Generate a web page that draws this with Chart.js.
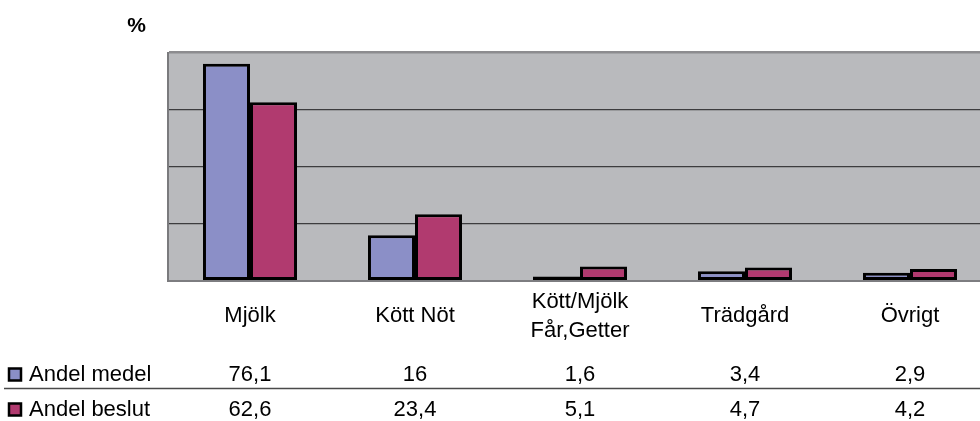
<!DOCTYPE html>
<html>
<head>
<meta charset="utf-8">
<script src="https://cdn.jsdelivr.net/npm/chart.js@4.4.1/dist/chart.umd.min.js"></script>
<style>
html, body { margin: 0; padding: 0; background: #ffffff; overflow: hidden; width: 980px; height: 421px; }
#wrap { position: absolute; left: 0; top: 0; width: 1000px; height: 421px; }
canvas { display: block; }
</style>
</head>
<body>
<div id="wrap"><canvas id="c" width="1000" height="421"></canvas></div>
<script>
// ---- Data ----
const categories = ['Mjölk', 'Kött Nöt', ['Kött/Mjölk', 'Får,Getter'], 'Trädgård', 'Övrigt'];
const seriesNames = ['Andel medel', 'Andel beslut'];
const andelMedel = [76.1, 16, 1.6, 3.4, 2.9];
const andelBeslut = [62.6, 23.4, 5.1, 4.7, 4.2];
const yTicks = [0, 20, 40, 60, 80];
const unitLabel = '%';

const colors = ['#8b8fc7', '#b13a6f'];
const FONT = '"Liberation Sans", Arial, Helvetica, sans-serif';

function fmt(v) { return String(v).replace('.', ','); }

const decor = {
  id: 'decor',
  beforeDraw(chart) {
    const { ctx, chartArea: a } = chart;
    ctx.save();
    ctx.fillStyle = '#b9babd';
    ctx.fillRect(a.left, a.top, a.right - a.left, a.bottom - a.top);
    ctx.restore();
  },
  afterDraw(chart) {
    const { ctx } = chart;
    const x = chart.scales.x;
    ctx.save();
    // unit label
    ctx.fillStyle = '#000';
    ctx.font = 'bold 21px ' + FONT;
    ctx.textAlign = 'center';
    ctx.textBaseline = 'middle';
    ctx.fillText(unitLabel, 136.5, 26);

    // category labels
    ctx.font = '22px ' + FONT;
    const lh = 29;
    categories.forEach((c, i) => {
      const lines = Array.isArray(c) ? c : [c];
      const cx = x.getPixelForValue(i);
      const cy = 316;
      lines.forEach((ln, j) => {
        ctx.fillText(ln, cx, cy + (j - (lines.length - 1) / 2) * lh);
      });
    });

    // data table
    const rows = [andelMedel, andelBeslut];
    const rowY = [375, 410];
    rows.forEach((vals, r) => {
      ctx.fillStyle = colors[r];
      ctx.strokeStyle = '#000';
      ctx.lineWidth = 2.5;
      ctx.fillRect(9, rowY[r] - 6.5, 12, 12);
      ctx.strokeRect(9, rowY[r] - 6.5, 12, 12);
      ctx.fillStyle = '#000';
      ctx.textAlign = 'left';
      ctx.fillText(seriesNames[r], 29, rowY[r]);
      ctx.textAlign = 'center';
      vals.forEach((v, i) => {
        ctx.fillText(fmt(v), x.getPixelForValue(i), rowY[r]);
      });
    });
    // separator
    ctx.strokeStyle = '#4a4a4a';
    ctx.lineWidth = 1.5;
    ctx.beginPath();
    ctx.moveTo(4, 388.5);
    ctx.lineTo(1000, 388.5);
    ctx.stroke();
    ctx.restore();
  }
};

new Chart(document.getElementById('c'), {
  type: 'bar',
  data: {
    labels: categories,
    datasets: [
      { label: seriesNames[0], data: andelMedel, backgroundColor: colors[0], borderColor: '#000', borderWidth: 3, borderSkipped: false },
      { label: seriesNames[1], data: andelBeslut, backgroundColor: colors[1], borderColor: '#000', borderWidth: 3, borderSkipped: false }
    ]
  },
  options: {
    responsive: false,
    animation: false,
    events: [],
    layout: { padding: { left: 167.5, top: 52.5, right: 7.5, bottom: 132 } },
    plugins: { legend: { display: false }, tooltip: { enabled: false } },
    datasets: { bar: { categoryPercentage: 0.57, barPercentage: 1.0 } },
    scales: {
      x: {
        ticks: { display: false },
        grid: { display: false },
        border: { display: false }
      },
      y: {
        min: yTicks[0],
        max: yTicks[yTicks.length - 1],
        afterBuildTicks(s) { s.ticks = yTicks.map(v => ({ value: v })); },
        ticks: { display: false },
        grid: {
          drawTicks: false,
          color: ctx => (ctx.tick.value === 80 ? '#8c8c8f' : ctx.tick.value === 0 ? '#7d7d80' : '#3c3c3e'),
          lineWidth: ctx => (ctx.tick.value === 80 ? 2.5 : ctx.tick.value === 0 ? 2 : 1.2)
        },
        border: { display: true, color: '#7a7a7d', width: 2 }
      }
    }
  },
  plugins: [decor]
});
</script>
</body>
</html>
